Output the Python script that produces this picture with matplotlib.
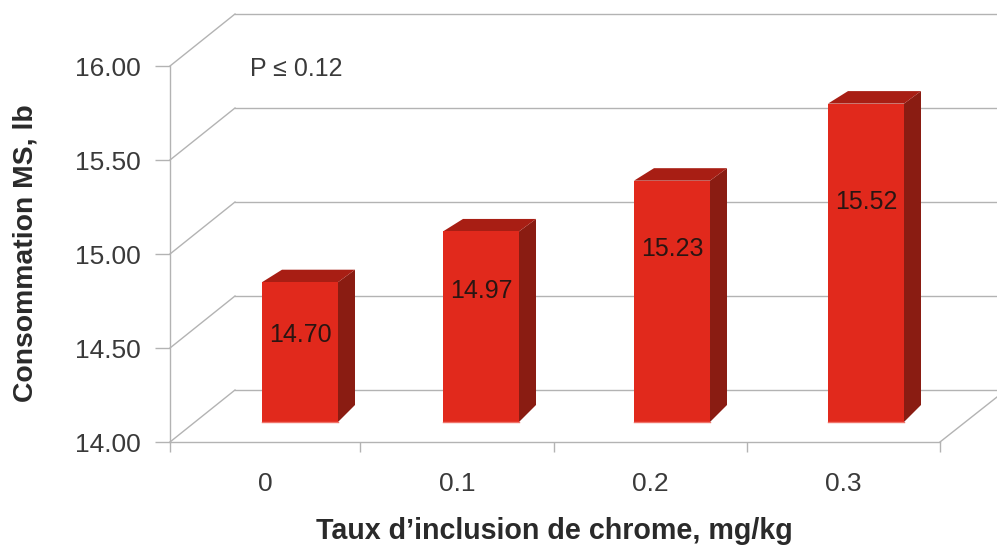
import matplotlib
matplotlib.use("Agg")
import matplotlib.pyplot as plt
from matplotlib.patches import Polygon

categories = ["0", "0.1", "0.2", "0.3"]
bar_labels = ["14.70", "14.97", "15.23", "15.52"]
# bar tops as they sit against the axis (the picture draws them higher than the labels say)
bar_tops = [14.85, 15.12, 15.39, 15.80]
y_ticks = [14.0, 14.5, 15.0, 15.5, 16.0]

plt.rcParams["font.family"] = ["Liberation Sans", "DejaVu Sans"]

W, H = 997, 550
fig = plt.figure(figsize=(W / 100, H / 100), dpi=100)
ax = fig.add_axes([170 / W, (H - 442) / H, 770 / W, 376 / H])
ax.set_xlim(0, 770)
ax.set_ylim(14, 16)

px_y = 2 / 376  # one pixel in y data units
dx = 65
dy = 52 * px_y
grid_c = "#b3b3b3"
text_c = "#3a3a3a"

for s in ["top", "right"]:
    ax.spines[s].set_visible(False)
for s in ["left", "bottom"]:
    ax.spines[s].set_color(grid_c)
    ax.spines[s].set_linewidth(1)

x_ticks = [0, 190, 384, 577, 770]
ax.set_xticks(x_ticks)
ax.set_xticklabels([])
ax.set_yticks(y_ticks)
ax.set_yticklabels([f"{v:.2f}" for v in y_ticks], fontsize=19, color=text_c)
ax.tick_params(axis="y", color=grid_c, length=11, width=1, pad=10)
ax.tick_params(axis="x", color=grid_c, length=7.5, width=1)

for i, c in enumerate(categories):
    ax.text((x_ticks[i] + x_ticks[i + 1]) / 2, 14 - 42 * px_y, c, ha="center", va="center",
            fontsize=19, color=text_c)

x_end = 827
for v in y_ticks:
    ax.plot([0, dx], [v, v + dy], color=grid_c, lw=1, clip_on=False, zorder=1)
    ax.plot([dx, x_end], [v + dy, v + dy], color=grid_c, lw=1, clip_on=False, zorder=1)
ax.plot([770, x_end], [14, 14 + 45 * px_y], color=grid_c, lw=1, clip_on=False, zorder=1)

# bars
bar_w = 76
side = 17
back_left = 20
top_rise = 12.5 * px_y
base_rise = 17 * px_y
base = 14 + 20 * px_y
lefts = [92, 273, 464, 658]
for left, top, lab in zip(lefts, bar_tops, bar_labels):
    right = left + bar_w
    ax.add_patch(Polygon([(right, base), (right + side, base + base_rise),
                          (right + side, top + top_rise), (right, top)],
                         fc="#8a1c12", ec="none", zorder=3, clip_on=False))
    ax.add_patch(Polygon([(left, top), (left + back_left, top + top_rise),
                          (right + side, top + top_rise), (right, top)],
                         fc="#a81e14", ec="none", zorder=3, clip_on=False))
    ax.bar(left + bar_w / 2, top - base, bar_w, bottom=base, color="#e1291c", zorder=4, clip_on=False)
    ax.plot([left, right], [base, base], color="#f0736a", lw=1, zorder=4, clip_on=False)
    # labels follow the value, not the bar top
    label_y = 14.569 + 0.862 * (float(lab) - 14.70)
    ax.text(left + bar_w / 2, label_y, lab, ha="center", va="center", fontsize=18,
            color="#2a1512", zorder=5)

fig.text(250 / W, 1 - 69 / H, "P ≤ 0.12", fontsize=18, color=text_c, ha="left", va="center")
fig.text(26 / W, 1 - 253 / H, "Consommation MS, lb", fontsize=20.4, fontweight="bold", color="#2a2a2a",
         rotation=90, ha="center", va="center")
fig.text(554 / W, 1 - 531 / H, "Taux d’inclusion de chrome, mg/kg", fontsize=20.6, fontweight="bold",
         color="#2a2a2a", ha="center", va="center")

fig.savefig("out.png", dpi=100)
